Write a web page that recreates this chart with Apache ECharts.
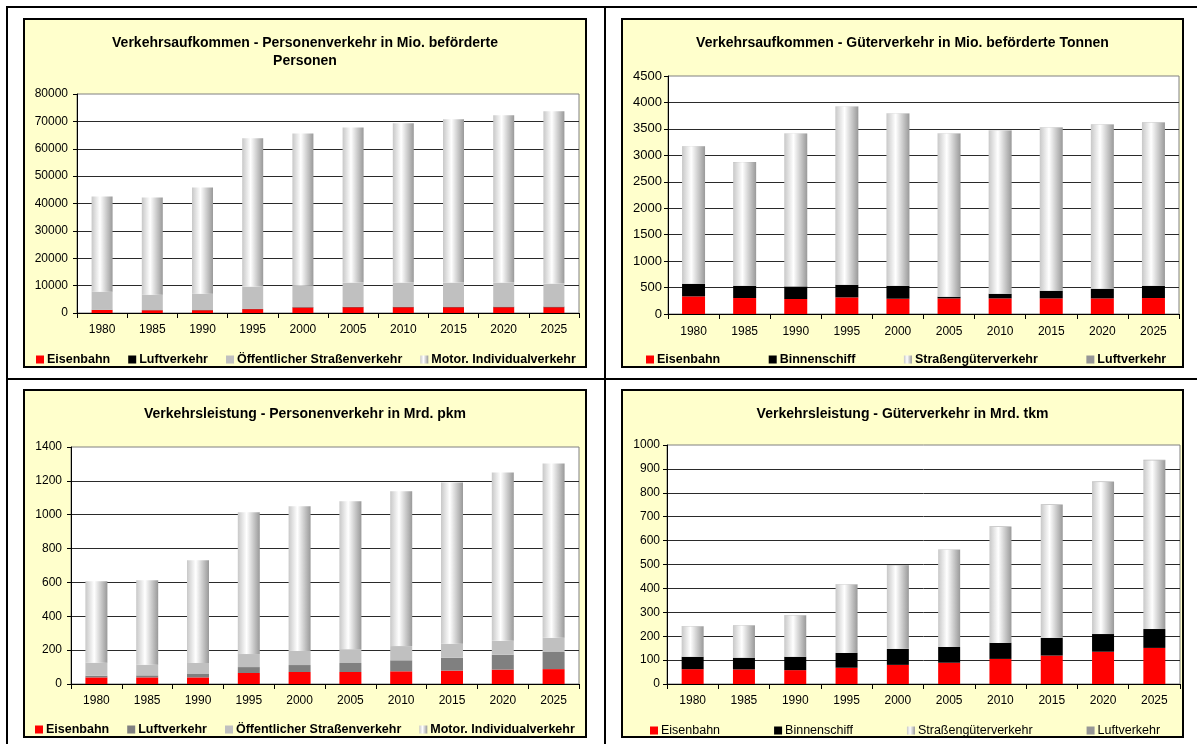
<!DOCTYPE html>
<html>
<head>
<meta charset="utf-8">
<script src="https://cdn.jsdelivr.net/npm/echarts@6/dist/echarts.min.js"></script>
<style>
  html, body { margin: 0; padding: 0; background: #ffffff; }
  body { width: 1197px; height: 744px; position: relative; overflow: hidden; }
  .line { position: absolute; background: #000; }
  .box { position: absolute; border: 2px solid #000; background: #ffffcc; box-sizing: content-box; }
  .chart { position: absolute; left: 0; top: 0; }
</style>
</head>
<body>
<div class="line" style="left:6px;top:6px;width:2px;height:738px;"></div>
<div class="line" style="left:6px;top:6px;width:1191px;height:2px;"></div>
<div class="line" style="left:604px;top:6px;width:2px;height:738px;"></div>
<div class="line" style="left:6px;top:378px;width:1191px;height:2px;"></div>

<div class="box" style="left:23px;top:18px;width:560px;height:346px;"><div id="c1" class="chart" style="width:560px;height:346px;"></div></div>
<div class="box" style="left:621px;top:18px;width:559px;height:346px;"><div id="c2" class="chart" style="width:559px;height:346px;"></div></div>
<div class="box" style="left:23px;top:389px;width:560px;height:345px;"><div id="c3" class="chart" style="width:560px;height:345px;"></div></div>
<div class="box" style="left:621px;top:389px;width:559px;height:345px;"><div id="c4" class="chart" style="width:559px;height:345px;"></div></div>

<script>
// ---------- data ----------
const years = ['1980', '1985', '1990', '1995', '2000', '2005', '2010', '2015', '2020', '2025'];

// Verkehrsaufkommen - Personenverkehr (Mio. beförderte Personen)
const pvAufEisenbahn = [1100, 1000, 1000, 1400, 2000, 2100, 2100, 2100, 2100, 2100];
const pvAufLuft      = [40, 60, 80, 80, 130, 150, 170, 190, 200, 210];
const pvAufOesv      = [6660, 5640, 5990, 8160, 7870, 8850, 8830, 8810, 8800, 8430];
const pvAufMiv       = [34780, 35500, 38800, 54160, 55600, 56700, 58200, 59660, 61100, 62960];
const pvAufTicks     = { min: 0, max: 80000, interval: 10000 };

// Verkehrsaufkommen - Güterverkehr (Mio. beförderte Tonnen)
const gvAufEisenbahn = [333, 302, 283, 314, 289, 295, 295, 295, 295, 302];
const gvAufBinnen    = [239, 232, 239, 239, 245, 32, 88, 145, 183, 232];
const gvAufStrasse   = [2602, 2338, 2891, 3369, 3256, 3086, 3086, 3086, 3104, 3086];
const gvAufLuft      = [2, 2, 2, 2, 3, 3, 3, 4, 4, 5];
const gvAufTicks     = { min: 0, max: 4500, interval: 500 };

// Verkehrsleistung - Personenverkehr (Mrd. pkm)
const pvLeiEisenbahn = [39, 39, 39, 65, 71, 71, 75, 79, 85, 88];
const pvLeiLuft      = [10, 12, 20, 35, 41, 53, 65, 76, 88, 101];
const pvLeiOesv      = [77, 63, 65, 77, 83, 82, 84, 83, 82, 84];
const pvLeiMiv       = [481, 499, 607, 837, 855, 873, 914, 953, 995, 1030];
const pvLeiTicks     = { min: 0, max: 1400, interval: 200 };

// Verkehrsleistung - Güterverkehr (Mrd. tkm)
const gvLeiEisenbahn = [62, 61, 58, 68, 80, 89, 105, 119, 135, 151];
const gvLeiBinnen    = [52, 49, 56, 62, 67, 66, 67, 74, 74, 79];
const gvLeiStrasse   = [127, 135, 173, 286, 350, 407, 485, 556, 636, 706];
const gvLeiLuft      = [1, 1, 1, 1, 1, 1, 2, 2, 2, 2];
const gvLeiTicks     = { min: 0, max: 1000, interval: 100 };

// ---------- styling ----------
const FONT = 'Arial, "Liberation Sans", sans-serif';
const cylinder = {
  type: 'linear', x: 0, y: 0, x2: 1, y2: 0,
  colorStops: [
    { offset: 0, color: '#c8c8c8' },
    { offset: 0.4, color: '#ffffff' },
    { offset: 1, color: '#999999' }
  ]
};

function makeChart(id, cfg) {
  const chart = echarts.init(document.getElementById(id), null, { renderer: 'canvas' });
  const series = cfg.series.map(s => ({
    name: s.name,
    type: 'bar',
    stack: 'total',
    barWidth: cfg.barWidth,
    data: s.data,
    itemStyle: { color: s.color },
    emphasis: { disabled: true },
    animation: false
  }));
  chart.setOption({
    animation: false,
    backgroundColor: 'transparent',
    textStyle: { fontFamily: FONT },
    title: {
      text: cfg.title,
      left: 'center',
      top: 9,
      textStyle: { fontFamily: FONT, fontSize: 14, fontWeight: 'bold', color: '#000', lineHeight: 18, align: 'center' }
    },
    legend: {
      left: cfg.legendLeft,
      top: cfg.legendTop,
      padding: 0,
      itemWidth: 8,
      itemHeight: 8,
      itemGap: cfg.legendGap,
      icon: 'rect',
      selectedMode: false,
      textStyle: { fontFamily: FONT, fontSize: 12.5, fontWeight: cfg.legendBold ? 'bold' : 'normal', color: '#000', padding: [0, 0, 0, -2] },
      data: cfg.series.map(s => s.name)
    },
    grid: {
      left: cfg.grid[0], right: cfg.grid[1], top: cfg.grid[2], bottom: cfg.grid[3],
      show: true, backgroundColor: '#ffffff', borderColor: '#808080', borderWidth: 1
    },
    xAxis: {
      type: 'category',
      data: years,
      boundaryGap: true,
      axisLine: { show: true, lineStyle: { color: '#000', width: 1 } },
      axisTick: { show: true, length: 5, alignWithLabel: false, interval: 0, lineStyle: { color: '#000' } },
      axisLabel: { color: '#000', fontSize: 12, fontFamily: FONT, margin: cfg.xMargin, interval: 0 },
      splitLine: { show: false }
    },
    yAxis: {
      type: 'value',
      min: cfg.ticks.min,
      max: cfg.ticks.max,
      interval: cfg.ticks.interval,
      axisLine: { show: true, lineStyle: { color: '#000', width: 1 } },
      axisTick: { show: true, length: 4, lineStyle: { color: '#000' } },
      axisLabel: { color: '#000', fontSize: cfg.yFont || 12, fontFamily: FONT, margin: cfg.yMargin, formatter: v => String(v) },
      splitLine: { show: true, showMaxLine: false, lineStyle: { color: '#2a2a2a', width: 1 } }
    },
    series: series
  });
  return chart;
}

makeChart('c1', {
  title: 'Verkehrsaufkommen - Personenverkehr in Mio. beförderte\nPersonen',
  ticks: pvAufTicks,
  grid: [52, 6, 74, 53],
  barWidth: 21,
  xMargin: 11,
  yMargin: 9,
  legendLeft: 11, legendTop: 333, legendGap: 18, legendBold: true,
  series: [
    { name: 'Eisenbahn', data: pvAufEisenbahn, color: '#ff0000' },
    { name: 'Luftverkehr', data: pvAufLuft, color: '#000000' },
    { name: 'Öffentlicher Straßenverkehr', data: pvAufOesv, color: '#c0c0c0' },
    { name: 'Motor. Individualverkehr', data: pvAufMiv, color: cylinder }
  ]
});

makeChart('c2', {
  title: 'Verkehrsaufkommen - Güterverkehr in Mio. beförderte Tonnen',
  ticks: gvAufTicks,
  grid: [45, 3, 56, 52],
  barWidth: 23,
  xMargin: 12,
  yMargin: 6,
  yFont: 13,
  legendLeft: 23, legendTop: 333, legendGap: 48.5, legendBold: true,
  series: [
    { name: 'Eisenbahn', data: gvAufEisenbahn, color: '#ff0000' },
    { name: 'Binnenschiff', data: gvAufBinnen, color: '#000000' },
    { name: 'Straßengüterverkehr', data: gvAufStrasse, color: cylinder },
    { name: 'Luftverkehr', data: gvAufLuft, color: '#969696' }
  ]
});

makeChart('c3', {
  title: 'Verkehrsleistung - Personenverkehr in Mrd. pkm',
  ticks: pvLeiTicks,
  grid: [46, 6, 56, 52],
  barWidth: 22,
  xMargin: 11,
  yMargin: 9,
  legendLeft: 10, legendTop: 332, legendGap: 18, legendBold: true,
  series: [
    { name: 'Eisenbahn', data: pvLeiEisenbahn, color: '#ff0000' },
    { name: 'Luftverkehr', data: pvLeiLuft, color: '#808080' },
    { name: 'Öffentlicher Straßenverkehr', data: pvLeiOesv, color: '#c0c0c0' },
    { name: 'Motor. Individualverkehr', data: pvLeiMiv, color: cylinder }
  ]
});

makeChart('c4', {
  title: 'Verkehrsleistung - Güterverkehr in Mrd. tkm',
  ticks: gvLeiTicks,
  grid: [44, 2, 54, 52],
  barWidth: 22,
  xMargin: 11,
  yMargin: 7,
  legendLeft: 27, legendTop: 333, legendGap: 54, legendBold: false,
  series: [
    { name: 'Eisenbahn', data: gvLeiEisenbahn, color: '#ff0000' },
    { name: 'Binnenschiff', data: gvLeiBinnen, color: '#000000' },
    { name: 'Straßengüterverkehr', data: gvLeiStrasse, color: cylinder },
    { name: 'Luftverkehr', data: gvLeiLuft, color: '#969696' }
  ]
});
</script>
</body>
</html>
